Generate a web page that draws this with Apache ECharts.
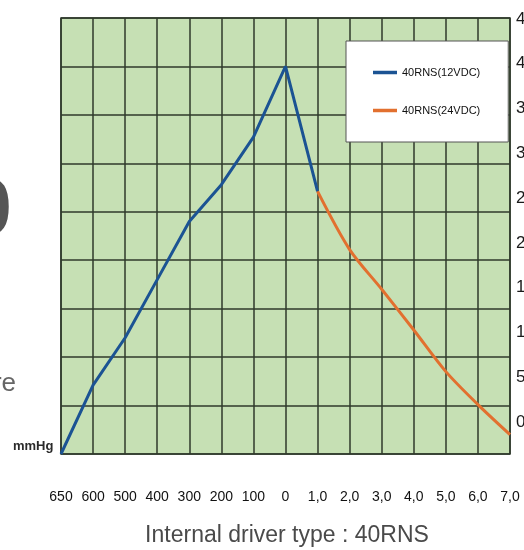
<!DOCTYPE html>
<html><head><meta charset="utf-8">
<script src="https://cdn.jsdelivr.net/npm/echarts@6/dist/echarts.min.js"></script>
<style>html,body{margin:0;padding:0;background:#fff}#c{width:524px;height:550px}</style>
</head><body><div id="c"></div>
<script>
var categories = ['650','600','500','400','300','200','100','0','1,0','2,0','3,0','4,0','5,0','6,0','7,0'];
var series12V = [0, 7.1, 12.0, 18.0, 24.0, 27.8, 32.7, 40.0, 27.1, null, null, null, null, null, null];
var series24V = [null, null, null, null, null, null, null, null, 27.1, 21.1, 17.0, 12.8, 8.5, 5.1, 2.0];
var yTicks = [0, 45, 5];
var seriesNames = ['40RNS(12VDC)', '40RNS(24VDC)'];
var SANS = '"Liberation Sans",Arial,sans-serif';
var GRIDC = '#2f3a2b';

var chart = echarts.init(document.getElementById('c'), null, {renderer: 'canvas'});
chart.setOption({
  animation: false,
  grid: [
    {left: 61, right: 14, top: 18, bottom: 96, show: true, backgroundColor: '#c6e0b4', borderColor: GRIDC, borderWidth: 1.5, containLabel: false, outerBoundsMode: 'none'},
    {left: 61, right: 14, top: 19, bottom: 128, show: false, containLabel: false, outerBoundsMode: 'none'}
  ],
  xAxis: [
    {type: 'category', gridIndex: 0, data: categories, boundaryGap: false,
     axisLine: {show: false}, axisTick: {show: false},
     splitLine: {show: true, lineStyle: {color: GRIDC, width: 1.5}},
     axisLabel: {margin: 36, fontFamily: SANS, fontSize: 14, color: '#111', interval: 0, hideOverlap: false}},
    {type: 'category', gridIndex: 1, data: categories, boundaryGap: false, show: false}
  ],
  yAxis: [
    {type: 'value', gridIndex: 0, min: yTicks[0], max: yTicks[1], interval: yTicks[2],
     axisLine: {show: false}, axisTick: {show: false}, axisLabel: {show: false},
     splitLine: {show: true, lineStyle: {color: GRIDC, width: 1.5}}},
    {type: 'value', gridIndex: 1, position: 'right', min: yTicks[0], max: yTicks[1], interval: yTicks[2],
     axisLine: {show: false}, axisTick: {show: false}, splitLine: {show: false},
     axisLabel: {show: true, margin: 6, fontFamily: SANS, fontSize: 17, color: '#1a1a1a', hideOverlap: false}}
  ],
  legend: {
    left: 346, top: 41, orient: 'vertical',
    backgroundColor: '#ffffff', borderColor: '#555', borderWidth: 1,
    padding: [26, 28, 26, 27], itemGap: 27,
    itemWidth: 24, itemHeight: 14,
    icon: 'path://M0,0 L24,0 L24,3.5 L0,3.5 Z',
    textStyle: {fontFamily: SANS, fontSize: 11, color: '#111'},
    data: seriesNames
  },
  series: [
    {name: seriesNames[0], type: 'line', xAxisIndex: 0, yAxisIndex: 0, data: series12V,
     showSymbol: false, symbol: 'none', color: '#1b5393', lineStyle: {width: 3, color: '#1b5393'}, z: 5},
    {name: seriesNames[1], type: 'line', xAxisIndex: 0, yAxisIndex: 0, data: series24V,
     showSymbol: false, symbol: 'none', smooth: 0.3, color: '#e2702f', lineStyle: {width: 3, color: '#e2702f'}, z: 5}
  ],
  graphic: [
    {type: 'text', x: 13, y: 446, style: {text: 'mmHg', font: 'bold 13px ' + SANS, fill: '#2a2a2a', textVerticalAlign: 'middle'}},
    {type: 'text', x: 16, y: 384, style: {text: 'Pressure', font: '26px ' + SANS, fill: '#666', textAlign: 'right', textVerticalAlign: 'middle'}},
    {type: 'text', x: 12, y: 212, style: {text: '0', font: 'bold 80px ' + SANS, fill: '#555', textAlign: 'right', textVerticalAlign: 'middle'}},
    {type: 'text', x: 287, y: 536, style: {text: 'Internal driver type : 40RNS', font: '23px ' + SANS, fill: '#4a4a4a', textAlign: 'center', textVerticalAlign: 'middle'}}
  ]
});
</script></body></html>
